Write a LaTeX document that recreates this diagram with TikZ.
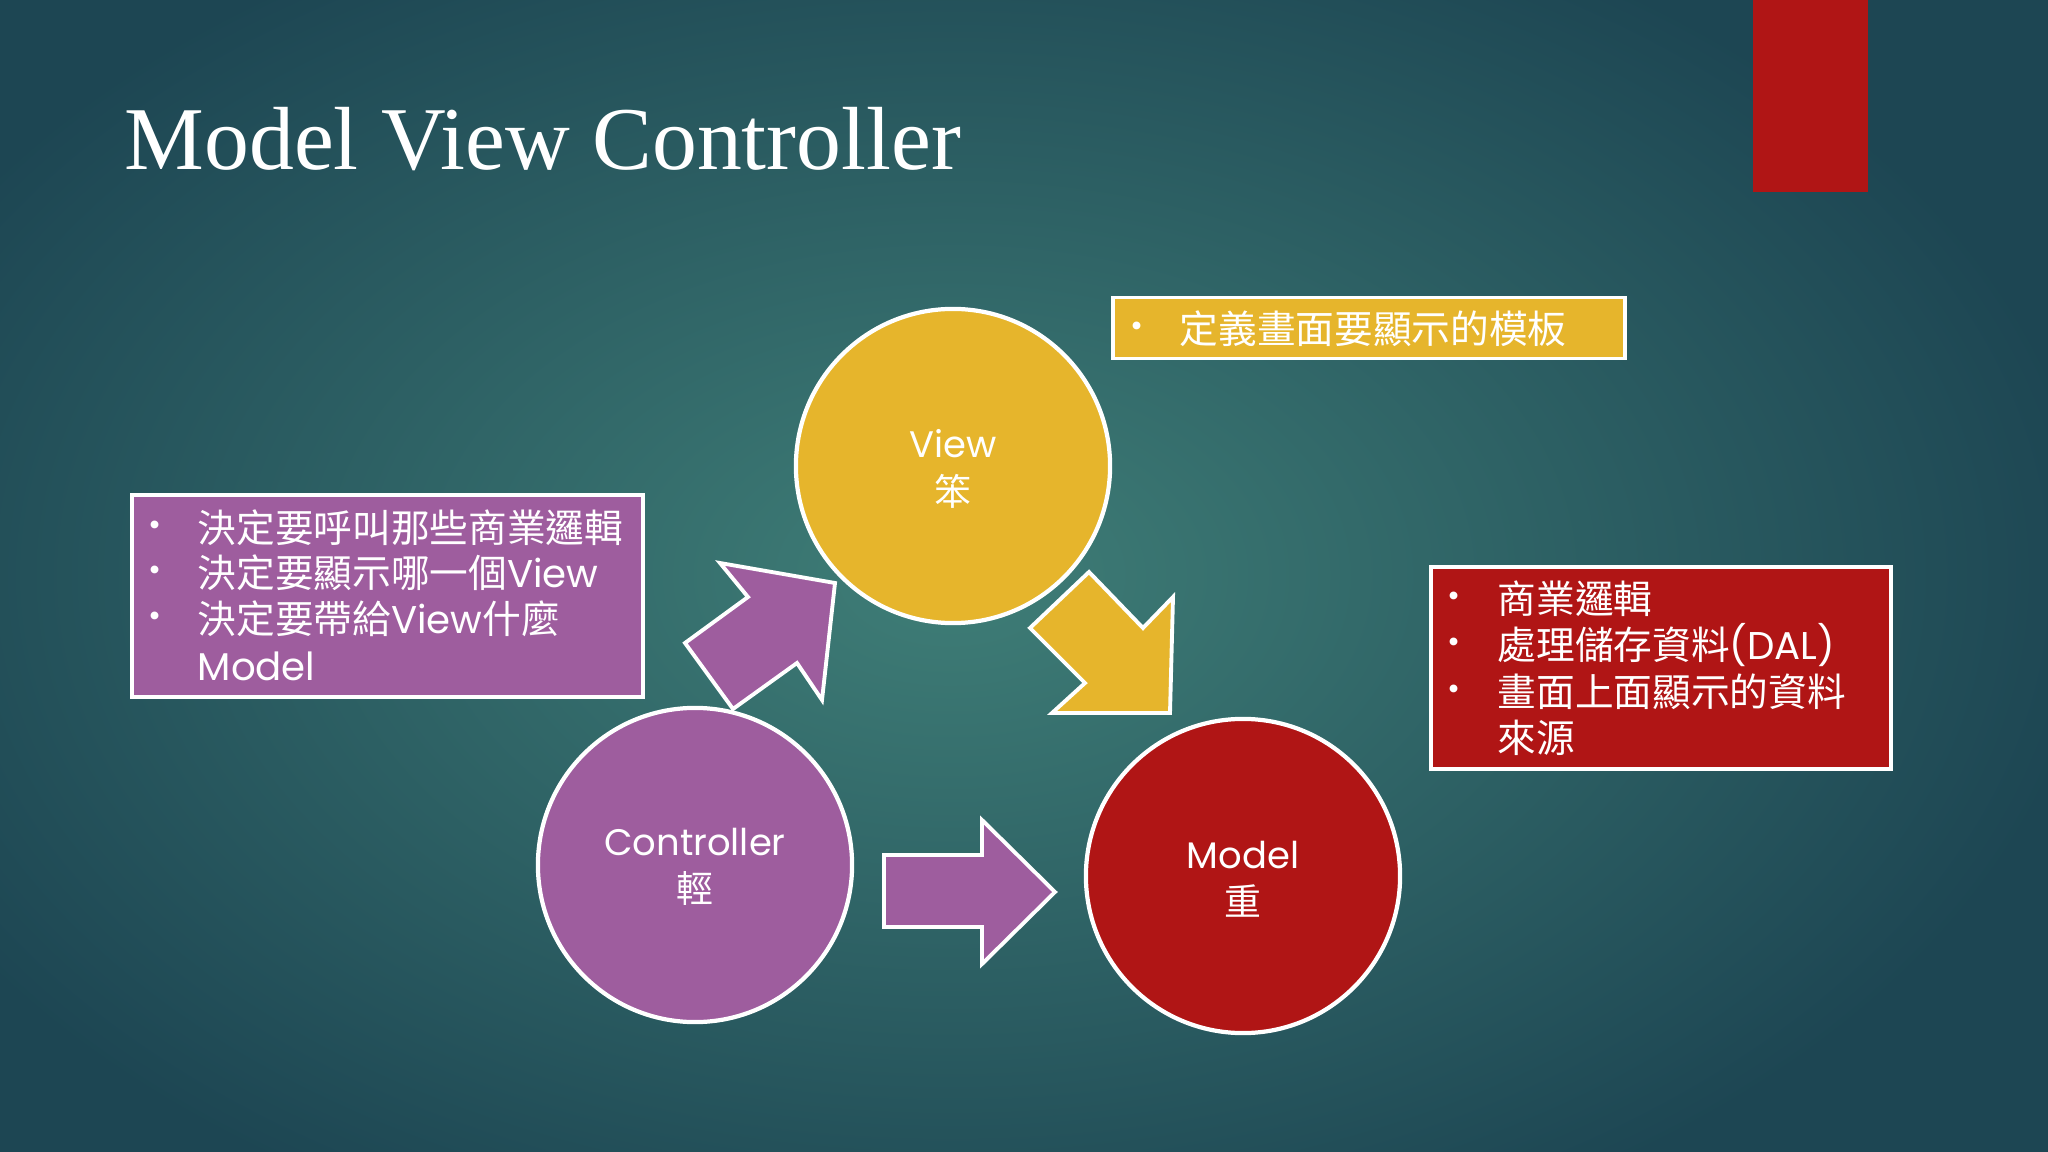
\documentclass[tikz,border=0pt]{standalone}
\usepackage{fontspec}
\setmainfont{Poppins}
\newfontfamily\titlefont{Liberation Serif}
\newfontfamily\cjk{Noto Sans CJK TC}
\definecolor{bgin}{HTML}{3F7E77}
\definecolor{bgout}{HTML}{1D4653}
\definecolor{myyel}{HTML}{E6B52C}
\definecolor{mypur}{HTML}{9E5D9E}
\definecolor{myred}{HTML}{B01515}
\begin{document}
\begin{tikzpicture}[x=0.01cm,y=-0.01cm,
  circ/.style={circle,draw=white,line width=1.2pt,minimum size=3.14cm,inner sep=0pt},
  ctext/.style={text=white,font=\fontsize{10.5}{12}\selectfont,inner sep=0pt},
  boxx/.style={rectangle,draw=white,line width=1.1pt,inner sep=0pt},
  btext/.style={text=white,anchor=west,inner sep=0pt,font=\fontsize{11}{13}\selectfont},
  bul/.style={text=white,inner sep=0pt,font=\fontsize{9}{10}\selectfont},
  barrow/.style={draw=white,line width=1.1pt,line join=miter}]
\useasboundingbox (0,0) rectangle (2048,1152);
\fill[bgout] (0,0) rectangle (2048,1152);
\shade[inner color=bgin,outer color=bgout] (-200,-150) rectangle (2100,1300);
\fill[myred] (1753,0) rectangle (1868,192);
\node[anchor=base west,text=white,inner sep=0pt,font=\titlefont\fontsize{25.5}{28}\selectfont] (title) at (124,170) {Model View Controller};
% circles
\node[circ,fill=myyel] (view) at (953,466) {};
\node[circ,fill=mypur] (ctrl) at (695,865) {};
\node[circ,fill=myred] (model) at (1243,876) {};
\node[ctext] (vt1) at (953,444) {View};
\node[ctext] (vt2) at (953,491) {\cjk 笨};
\node[ctext] (ct1) at (695,842) {Controller};
\node[ctext] (ct2) at (695,888) {\cjk 輕};
\node[ctext] (mt1) at (1243,855) {Model};
\node[ctext] (mt2) at (1243,901) {\cjk 重};
% arrows
\draw[barrow,fill=mypur] (720,563) -- (835,583) -- (822,700) -- (797,663) -- (733,709) -- (685,643) -- (748,597) -- cycle;
\draw[barrow,fill=myyel] (1089,572) -- (1143,628) -- (1173,597) -- (1170,713) -- (1052,713) -- (1085,683) -- (1030,628) -- cycle;
\draw[barrow,fill=mypur] (884,855) -- (982,855) -- (982,820) -- (1055,892) -- (982,964) -- (982,927) -- (884,927) -- cycle;
% yellow box
\node[boxx,fill=myyel,minimum width=5.12cm,minimum height=0.61cm] (ybox) at (1369,328) {};
\node[bul] (yb1) at (1137,329) {\textbullet};
\node[btext] (yt1) at (1179,329) {\cjk 定義畫面要顯示的模板};
% purple box
\node[boxx,fill=mypur,minimum width=5.11cm,minimum height=2.02cm] (pbox) at (387.5,596) {};
\node[bul] (pb1) at (155,528) {\textbullet};
\node[bul] (pb2) at (155,573) {\textbullet};
\node[bul] (pb3) at (155,619) {\textbullet};
\node[btext] (pt1) at (197,528) {\cjk 決定要呼叫那些商業邏輯};
\node[btext] (pt2) at (197,573) {{\cjk 決定要顯示哪一個}View};
\node[btext] (pt3) at (197,619) {{\cjk 決定要帶給}View{\cjk 什麼}};
\node[btext] (pt4) at (197,666) {Model};
% red box
\node[boxx,fill=myred,minimum width=4.60cm,minimum height=2.02cm] (rbox) at (1661,668) {};
\node[bul] (rb1) at (1454,599) {\textbullet};
\node[bul] (rb2) at (1454,645) {\textbullet};
\node[bul] (rb3) at (1454,692) {\textbullet};
\node[btext] (rt1) at (1497,599) {\cjk 商業邏輯};
\node[btext] (rt2) at (1497,645) {{\cjk 處理儲存資料}(DAL)};
\node[btext] (rt3) at (1497,692) {\cjk 畫面上面顯示的資料};
\node[btext] (rt4) at (1497,738) {\cjk 來源};
\end{tikzpicture}
\end{document}
